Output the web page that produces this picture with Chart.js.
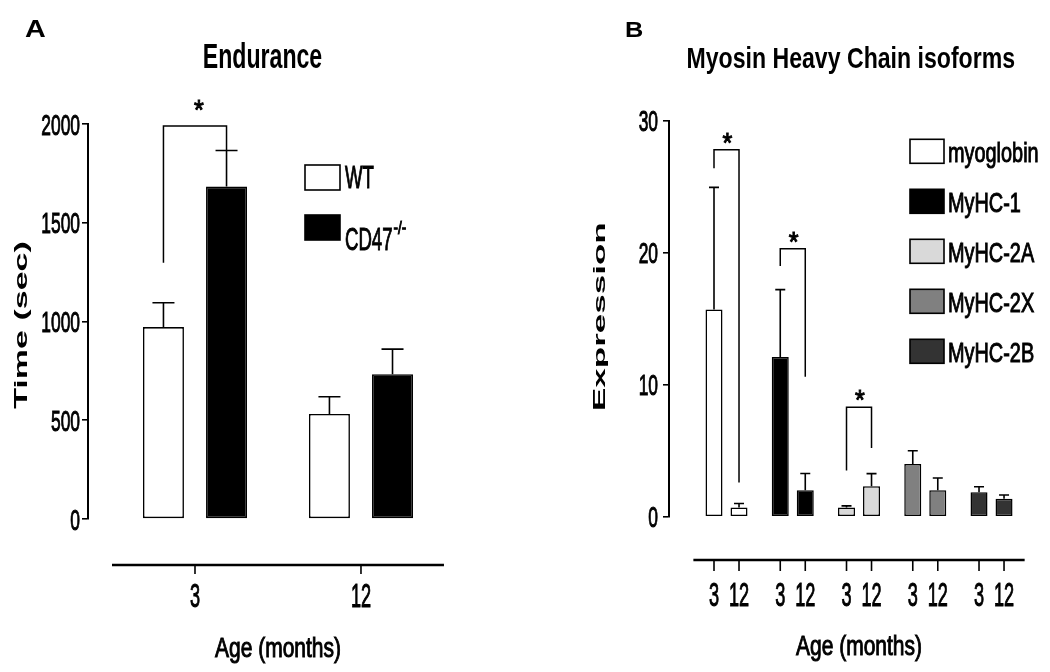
<!DOCTYPE html>
<html>
<head>
<meta charset="utf-8">
<script src="https://cdn.jsdelivr.net/npm/chart.js@4.4.1/dist/chart.umd.min.js"></script>
<style>
    html, body { margin: 0; padding: 0; background: #fff; overflow: hidden; }
    #wrap { position: relative; width: 1050px; height: 672px; }
    #cA { position: absolute; left: 0; top: 0; }
    #cB { position: absolute; left: 560px; top: 0; }
</style>
</head>
<body>
<div id="wrap">
    <canvas id="cA" width="530" height="672"></canvas>
    <canvas id="cB" width="490" height="672"></canvas>
</div>
<script>
var FONT = "'Liberation Sans', Arial, sans-serif";

// panel A - endurance
var ageA = ['3', '12'];
var seriesA = ['WT', 'CD47'];
var seriesSupA = ['', '-/-'];
var colorsA = ['#ffffff', '#000000'];
var wtMean = [972, 532];
var wtSem = [123, 87];
var koMean = [1683, 733];
var koSem = [183, 127];
var yTicksA = [0, 500, 1000, 1500, 2000];
// significance bracket: group, top of bracket, bottom of left leg, bottom of right leg
var sigA = [{ group: 0, top: 1990, left: 1297, right: 1866 }];

// panel B - myosin heavy chain isoforms
var isoforms = ['myoglobin', 'MyHC-1', 'MyHC-2A', 'MyHC-2X', 'MyHC-2B'];
var isoColors = ['#ffffff', '#000000', '#d9d9d9', '#808080', '#333333'];
var ageB = ['3', '12'];
var mean3 = [15.7, 12.1, 0.7, 4.0, 1.85];
var sem3 = [9.25, 5.1, 0.12, 1.0, 0.42];
var mean12 = [0.7, 2.0, 2.3, 2.0, 1.36];
var sem12 = [0.3, 1.27, 0.96, 0.93, 0.28];
var yTicksB = [0, 10, 20, 30];
var sigB = [
    { group: 0, top: 27.8, left: 26.4, right: 2.6 },
    { group: 1, top: 20.3, left: 19.0, right: 10.6 },
    { group: 2, top: 8.3, left: 3.5, right: 5.2 }
];

// text squeezed sideways, the figure uses a very narrow face
function sText(ctx, str, x, y, size, sx, bold, align) {
    ctx.save();
    ctx.translate(x, y);
    ctx.scale(sx, 1);
    ctx.font = (bold ? 'bold ' : '') + size + 'px ' + FONT;
    ctx.textAlign = align || 'center';
    ctx.textBaseline = 'alphabetic';
    ctx.fillStyle = '#000';
    ctx.fillText(str, 0, 0);
    if (!bold) {
        // a bit heavier than plain regular
        ctx.strokeStyle = '#000';
        ctx.lineWidth = 1;
        ctx.strokeText(str, 0, 0);
    }
    ctx.restore();
}

var extras = {
    id: 'extras',
    // error bars (upper only)
    afterDatasetsDraw: function (chart, args, o) {
        var ctx = chart.ctx, y = chart.scales.y;
        ctx.save();
        ctx.strokeStyle = '#000';
        ctx.lineWidth = 1.6;
        chart.data.datasets.forEach(function (ds, di) {
            chart.getDatasetMeta(di).data.forEach(function (bar, i) {
                var top = y.getPixelForValue(ds.data[i].y + ds.errors[i]);
                ctx.beginPath();
                ctx.moveTo(bar.x, bar.y);
                ctx.lineTo(bar.x, top);
                ctx.moveTo(bar.x - o.cap / 2, top);
                ctx.lineTo(bar.x + o.cap / 2, top);
                ctx.stroke();
            });
        });
        ctx.restore();
    },
    afterDraw: function (chart, args, o) {
        var ctx = chart.ctx, x = chart.scales.x, y = chart.scales.y;
        var m0 = chart.getDatasetMeta(0).data, m1 = chart.getDatasetMeta(1).data;
        ctx.save();
        ctx.strokeStyle = '#000';

        // panel letter + title
        sText(ctx, o.letter, o.letterX, 37, o.letterSize, o.letterSx, true, 'left');
        sText(ctx, o.title, o.titleX, 68, o.titleSize, o.titleSx, true);

        // y tick labels
        y.ticks.forEach(function (t) {
            sText(ctx, String(t.value), o.yLabelX, y.getPixelForValue(t.value) + 10.7, 30, 0.58, false, 'right');
        });

        // detached x axis
        var ay = y.bottom + o.axisGap;
        var x0 = x.getPixelForValue(0.5), x1 = x.getPixelForValue(o.groups + 0.5);
        ctx.lineWidth = 2.5;
        ctx.beginPath();
        ctx.moveTo(x0, ay);
        ctx.lineTo(x1, ay);
        ctx.stroke();
        var ticks = [];
        if (o.perBar) {
            m0.forEach(function (b, i) { ticks.push([b.x, o.labels[0]], [m1[i].x, o.labels[1]]); });
        } else {
            o.labels.forEach(function (l, i) { ticks.push([x.getPixelForValue(i + 1), l]); });
        }
        ticks.forEach(function (t) {
            ctx.lineWidth = 1.6;
            ctx.beginPath();
            ctx.moveTo(t[0], ay);
            ctx.lineTo(t[0], ay + o.tickLen);
            ctx.stroke();
            sText(ctx, t[1], t[0], o.labelY, 33, 0.55, false);
        });
        sText(ctx, 'Age (months)', (x0 + x1) / 2, o.xTitleY, 28, 0.75, false);

        // significance brackets
        o.brackets.forEach(function (s) {
            var xl = m0[s.group].x, xr = m1[s.group].x, yt = y.getPixelForValue(s.top);
            ctx.lineWidth = 1.5;
            ctx.beginPath();
            ctx.moveTo(xl, y.getPixelForValue(s.left));
            ctx.lineTo(xl, yt);
            ctx.lineTo(xr, yt);
            ctx.lineTo(xr, y.getPixelForValue(s.right));
            ctx.stroke();
            sText(ctx, '*', (xl + xr) / 2 + o.starDx, yt + o.starDy, 28, 0.9, false);
        });

        // legend
        var L = o.legend;
        L.names.forEach(function (name, i) {
            var by = L.y + i * L.gap;
            ctx.fillStyle = L.fills[i];
            ctx.lineWidth = 1.6;
            ctx.fillRect(L.x, by, L.w, L.h);
            ctx.strokeRect(L.x, by, L.w, L.h);
            var ty = by + L.textDy[i];
            sText(ctx, name, L.textX, ty, L.size, L.sx, false, 'left');
            if (L.sups && L.sups[i]) {
                ctx.font = L.size + 'px ' + FONT;
                var w = ctx.measureText(name).width * L.sx;
                sText(ctx, L.sups[i], L.textX + w + 1, ty - 16, 18, 0.75, false, 'left');
            }
        });

        // rotated, squeezed y title
        var t = o.yTitle;
        ctx.translate(t.x, t.y);
        ctx.rotate(-Math.PI / 2);
        ctx.scale(1, t.k);
        ctx.fillStyle = '#000';
        ctx.font = 'bold ' + t.size + 'px ' + FONT;
        ctx.textAlign = 'center';
        ctx.textBaseline = 'alphabetic';
        ctx.fillText(t.text, 0, 0);
        ctx.restore();
    }
};

function barSet(label, means, errs, color) {
    return {
        label: label,
        data: means.map(function (v, i) { return { x: i + 1, y: v }; }),
        errors: errs,
        backgroundColor: color,
        borderColor: '#000',
        borderWidth: 1.6,
        borderSkipped: false
    };
}

function axes(xmin, xmax, groups, ymax, yTicks, yWidth) {
    return {
        x: {
            type: 'linear', min: xmin, max: xmax, offset: false,
            // one tick per group so the bar ruler uses the group spacing
            afterBuildTicks: function (s) {
                s.ticks = [];
                for (var g = 1; g <= groups; g++) s.ticks.push({ value: g });
            },
            grid: { display: false, drawTicks: false },
            border: { display: false },
            ticks: { display: false }
        },
        y: {
            min: 0, max: ymax,
            afterBuildTicks: function (s) { s.ticks = yTicks.map(function (v) { return { value: v }; }); },
            afterFit: function (s) { s.width = yWidth; },
            grid: { drawOnChartArea: false, drawTicks: true, tickLength: 6, color: '#000', lineWidth: 1.6 },
            border: { display: true, color: '#000', width: 2 },
            ticks: { display: false }
        }
    };
}

// chart A
var dsA = [barSet(seriesA[0], wtMean, wtSem, colorsA[0]), barSet(seriesA[1], koMean, koSem, colorsA[1])];
dsA.forEach(function (d) { d.categoryPercentage = 0.76; d.barPercentage = 0.65; });

new Chart(document.getElementById('cA'), {
    type: 'bar',
    data: { datasets: dsA },
    options: {
        responsive: false,
        animation: false,
        layout: { padding: { left: 0, right: 93, top: 124, bottom: 153 } },
        plugins: {
            legend: { display: false },
            tooltip: { enabled: false },
            extras: {
                letter: 'A', letterX: 25, letterSize: 23, letterSx: 1.25,
                title: 'Endurance', titleX: 262.5, titleSize: 35, titleSx: 0.66,
                yLabelX: 80, cap: 22, axisGap: 46, tickLen: 9, groups: ageA.length,
                perBar: false, labels: ageA, labelY: 607, xTitleY: 657,
                brackets: sigA, starDx: 4, starDy: -7,
                legend: { x: 305, y: 165, w: 35, h: 25, gap: 50, textX: 345, textDy: [23, 35], size: 31, sx: 0.6, names: seriesA, sups: seriesSupA, fills: colorsA },
                yTitle: { text: 'Time (sec)', x: 27, y: 325, size: 34, k: 0.55 }
            }
        },
        scales: axes(0.3554, 2.458, ageA.length, 2000, yTicksA, 88)
    },
    plugins: [extras]
});

// chart B
var dsB = [barSet(ageB[0], mean3, sem3, isoColors), barSet(ageB[1], mean12, sem12, isoColors)];
dsB.forEach(function (d) { d.categoryPercentage = 0.755; d.barPercentage = 0.68; d.borderWidth = 1.5; });

new Chart(document.getElementById('cB'), {
    type: 'bar',
    data: { datasets: dsB },
    options: {
        responsive: false,
        animation: false,
        layout: { padding: { left: 0, right: 17, top: 120.7, bottom: 155.3 } },
        plugins: {
            legend: { display: false },
            tooltip: { enabled: false },
            extras: {
                letter: 'B', letterX: 65, letterSize: 22, letterSx: 1.15,
                title: 'Myosin Heavy Chain isoforms', titleX: 290.8, titleSize: 30, titleSx: 0.77,
                yLabelX: 98, cap: 10, axisGap: 43.3, tickLen: 11, groups: isoforms.length,
                perBar: true, labels: ageB, labelY: 606, xTitleY: 655,
                brackets: sigB, starDx: 1, starDy: 2,
                legend: { x: 350, y: 139.3, w: 34, h: 24, gap: 50, textX: 388, textDy: [22.5, 22.5, 22.5, 22.5, 22.5], size: 28, sx: 0.71, names: isoforms, fills: isoColors },
                yTitle: { text: 'Expression', x: 45, y: 316.7, size: 35, k: 0.49 }
            }
        },
        scales: axes(0.132, 5.626, isoforms.length, 30, yTicksB, 109)
    },
    plugins: [extras]
});
</script>
</body>
</html>
